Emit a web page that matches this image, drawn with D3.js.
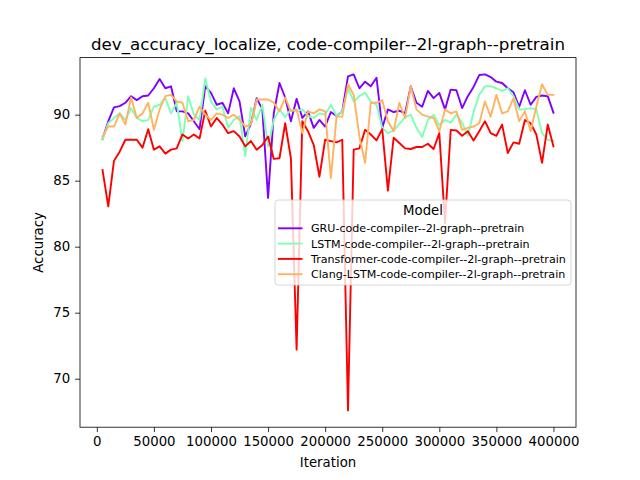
<!DOCTYPE html>
<html>
<head>
<meta charset="utf-8">
<script src="https://cdn.jsdelivr.net/npm/d3@7"></script>
<style>
  body { margin: 0; background: #fff; }
  svg { font-family: "DejaVu Sans", sans-serif; }
</style>
</head>
<body>
<div id="chart"></div>
<script>
var iterations = [5000, 10000, 15000, 20000, 25000, 30000, 35000, 40000, 45000, 50000,
  55000, 60000, 65000, 70000, 75000, 80000, 85000, 90000, 95000, 100000,
  105000, 110000, 115000, 120000, 125000, 130000, 135000, 140000, 145000, 150000,
  155000, 160000, 165000, 170000, 175000, 180000, 185000, 190000, 195000, 200000,
  205000, 210000, 215000, 220000, 225000, 230000, 235000, 240000, 245000, 250000,
  255000, 260000, 265000, 270000, 275000, 280000, 285000, 290000, 295000, 300000,
  305000, 310000, 315000, 320000, 325000, 330000, 335000, 340000, 345000, 350000,
  355000, 360000, 365000, 370000, 375000, 380000, 385000, 390000, 395000, 400000];

var gruValues = [88.15, 89.5, 90.55, 90.65, 90.9, 91.4, 91.1, 91.4, 91.45, 92.0,
  92.7, 92.0, 92.15, 90.25, 90.25, 90.1, 89.5, 88.9, 92.15, 91.65,
  90.75, 90.9, 90.1, 92.0, 91.0, 88.35, 89.3, 91.25, 90.4, 83.7,
  90.1, 92.4, 91.3, 89.5, 91.2, 89.75, 90.25, 89.0, 89.6, 89.1,
  90.2, 89.9, 90.25, 92.9, 93.05, 92.0, 92.5, 92.15, 92.8, 89.0,
  90.4, 90.2, 90.3, 90.1, 92.15, 90.9, 90.6, 91.8, 91.25, 91.65,
  90.4, 91.9, 91.85, 90.5, 91.4, 92.1, 93.0, 93.05, 92.85, 92.5,
  92.4, 92.0, 91.7, 90.6, 91.85, 90.75, 91.35, 91.45, 91.4, 90.15];

var lstmValues = [88.1, 89.35, 89.75, 90.1, 89.6, 90.5, 89.75, 89.5, 89.6, 90.6,
  90.75, 91.25, 90.1, 90.9, 88.0, 91.4, 90.0, 89.6, 92.75, 91.0,
  90.4, 90.6, 89.0, 89.6, 89.9, 86.85, 90.5, 89.6, 90.75, 87.6,
  89.6, 90.4, 89.8, 90.4, 90.25, 90.4, 89.9, 89.75, 90.1, 90.0,
  90.75, 89.9, 90.25, 92.0, 91.0, 91.4, 91.65, 91.0, 90.75, 89.0,
  88.6, 88.8, 89.3, 89.8, 90.0, 89.0, 88.3, 89.6, 90.0, 89.2,
  89.6, 89.4, 90.0, 89.4, 88.4, 90.2, 91.5, 92.15, 92.15, 92.0,
  91.8, 92.0, 91.4, 90.4, 90.4, 90.5, 90.4, 88.6, 88.1, 88.0];

var transformerValues = [85.8, 83.05, 86.5, 87.2, 88.1, 88.1, 88.1, 87.5, 88.9, 87.35,
  87.6, 87.05, 87.35, 87.45, 88.5, 88.2, 88.5, 88.2, 90.3, 89.1,
  89.75, 89.25, 88.6, 88.75, 88.35, 87.6, 88.0, 87.35, 87.7, 88.35,
  86.65, 86.7, 89.35, 86.7, 72.2, 89.5, 88.75, 87.7, 85.3, 88.1,
  88.0, 87.9, 88.1, 67.6, 87.35, 87.45, 88.85, 88.5, 88.05, 88.9,
  84.25, 88.25, 87.85, 87.45, 87.4, 87.55, 87.55, 87.8, 87.4, 88.6,
  81.8, 88.85, 88.8, 88.4, 88.75, 88.05, 88.75, 89.5, 88.6, 88.4,
  89.25, 87.1, 87.9, 87.8, 89.6, 89.35, 88.5, 86.35, 89.25, 87.6];

var clangValues = [88.35, 89.1, 89.1, 90.1, 89.25, 91.3, 89.75, 90.1, 90.9, 88.85,
  90.4, 91.4, 91.5, 91.0, 90.9, 89.5, 89.6, 90.6, 90.0, 89.6,
  90.1, 90.0, 89.75, 90.0, 89.6, 89.1, 89.25, 91.15, 91.15, 91.15,
  90.9, 90.25, 91.3, 90.25, 90.4, 88.6, 90.25, 90.1, 90.4, 90.25,
  85.2, 89.85, 89.85, 92.3, 91.5, 88.35, 86.35, 90.9, 90.9, 91.1,
  89.5, 88.75, 90.9, 89.75, 92.15, 90.4, 90.0, 89.85, 89.75, 88.75,
  90.4, 90.1, 90.25, 88.85, 89.0, 89.1, 89.35, 91.0, 89.85, 91.5,
  90.1, 90.25, 91.25, 89.5, 90.25, 88.75, 90.6, 92.3, 91.5, 91.5];

var seriesNames = ["GRU-code-compiler--2l-graph--pretrain",
  "LSTM-code-compiler--2l-graph--pretrain",
  "Transformer-code-compiler--2l-graph--pretrain",
  "Clang-LSTM-code-compiler--2l-graph--pretrain"];
var seriesColors = ["#8000ff", "#80ffb4", "#ff0000", "#ffb360"];

var xTicks = [0, 50000, 100000, 150000, 200000, 250000, 300000, 350000, 400000];
var yTicks = [70, 75, 80, 85, 90];

var svgWidth = 640;
var svgHeight = 480;
var margin = { top: 57.6, right: 64, bottom: 52.8, left: 80 };
var width = svgWidth - margin.left - margin.right;
var height = svgHeight - margin.top - margin.bottom;

var series = [gruValues, lstmValues, transformerValues, clangValues].map(function(vals, i) {
  return {
    name: seriesNames[i],
    color: seriesColors[i],
    points: vals.map(function(v, j) { return { x: iterations[j], y: v }; })
  };
});

var svg = d3.select("#chart").append("svg")
  .attr("width", svgWidth)
  .attr("height", svgHeight);

var chartGroup = svg.append("g")
  .attr("transform", `translate(${margin.left}, ${margin.top})`);

// matplotlib style 5% padding
var xMin = d3.min(iterations), xMax = d3.max(iterations);
var xPad = (xMax - xMin) * 0.05;
var allY = [].concat(gruValues, lstmValues, transformerValues, clangValues);
var yMin = d3.min(allY), yMax = d3.max(allY);
var yPad = (yMax - yMin) * 0.05;

var xScale = d3.scaleLinear().domain([xMin - xPad, xMax + xPad]).range([0, width]);
var yScale = d3.scaleLinear().domain([yMin - yPad, yMax + yPad]).range([height, 0]);

var line = d3.line()
  .x(d => xScale(d.x))
  .y(d => yScale(d.y));

chartGroup.selectAll("path.series")
  .data(series)
  .enter()
  .append("path")
  .attr("class", "series")
  .attr("d", d => line(d.points))
  .attr("fill", "none")
  .attr("stroke", d => d.color)
  .attr("stroke-width", 1.9)
  .attr("stroke-linejoin", "round")
  .attr("stroke-linecap", "square");

var bottomAxis = d3.axisBottom(xScale).tickValues(xTicks).tickFormat(d3.format("d"))
  .tickSizeInner(4.9).tickSizeOuter(0).tickPadding(4.9);
var leftAxis = d3.axisLeft(yScale).tickValues(yTicks)
  .tickSizeInner(4.9).tickSizeOuter(0).tickPadding(4.9);

var xAxis = chartGroup.append("g")
  .attr("transform", `translate(0, ${height})`)
  .call(bottomAxis);
var yAxis = chartGroup.append("g")
  .call(leftAxis);

[xAxis, yAxis].forEach(function(ax) {
  ax.select(".domain").remove();
  ax.selectAll("line").attr("stroke", "#000").attr("stroke-width", 0.8);
  ax.selectAll("text").attr("font-size", 13.3).attr("fill", "#000")
    .attr("font-family", "DejaVu Sans");
});

// frame
chartGroup.append("rect")
  .attr("width", width)
  .attr("height", height)
  .attr("fill", "none")
  .attr("stroke", "#000")
  .attr("stroke-width", 0.8);

svg.append("text")
  .attr("x", margin.left + width / 2)
  .attr("y", 50)
  .attr("text-anchor", "middle")
  .attr("font-size", 16.7)
  .text("dev_accuracy_localize, code-compiler--2l-graph--pretrain");

svg.append("text")
  .attr("x", margin.left + width / 2)
  .attr("y", 467)
  .attr("text-anchor", "middle")
  .attr("font-size", 13.3)
  .text("Iteration");

svg.append("text")
  .attr("transform", `translate(43, ${margin.top + height / 2}) rotate(-90)`)
  .attr("text-anchor", "middle")
  .attr("font-size", 13.3)
  .text("Accuracy");

// legend
var legend = svg.append("g").attr("transform", "translate(275, 200)");
legend.append("rect")
  .attr("width", 296)
  .attr("height", 85)
  .attr("rx", 3)
  .attr("fill", "#fff")
  .attr("fill-opacity", 0.8)
  .attr("stroke", "#cccccc")
  .attr("stroke-width", 0.8);

legend.append("text")
  .attr("x", 148)
  .attr("y", 15)
  .attr("text-anchor", "middle")
  .attr("font-size", 13.3)
  .text("Model");

var items = legend.selectAll("g.item")
  .data(series)
  .enter()
  .append("g")
  .attr("class", "item")
  .attr("transform", (d, i) => `translate(0, ${28.3 + i * 15.3})`);

items.append("line")
  .attr("x1", 3).attr("x2", 27.5)
  .attr("stroke", d => d.color)
  .attr("stroke-width", 1.9);

items.append("text")
  .attr("x", 36)
  .attr("y", 4)
  .attr("font-size", 11.1)
  .text(d => d.name);
</script>
</body>
</html>
